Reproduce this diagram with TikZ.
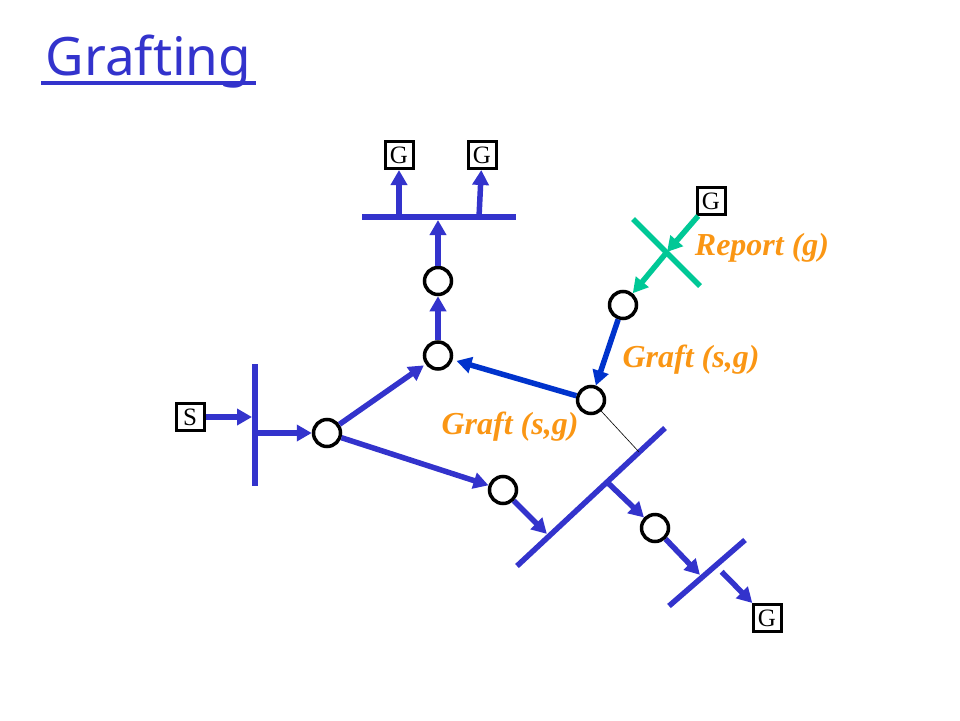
\documentclass[tikz,border=0pt]{standalone}
\usepackage{fontspec}
\setmainfont{Liberation Serif}
\newfontfamily\titlefont{Noto Sans}
\usetikzlibrary{arrows.meta,positioning}
\definecolor{treeblue}{RGB}{51,51,204}
\definecolor{graftblue}{RGB}{0,51,204}
\definecolor{reportgreen}{RGB}{0,200,150}
\definecolor{msgorange}{RGB}{250,150,20}
\tikzset{
mcast/.style={>={Triangle[length=15pt,width=16pt]},line width=5.5pt,
x=1pt,y=-1pt},
router/.style={circle,draw,line width=3.5pt,minimum size=27pt,inner sep=0pt},
member/.style={rectangle,draw,line width=3pt,minimum width=28pt,
minimum height=27pt,inner sep=0pt,font=\fontsize{25}{25}\selectfont},
lan/.style={treeblue},
tree/.style={->,treeblue},
graft/.style={->,graftblue},
report/.style={->,reportgreen},
msg/.style={msgorange,font=\fontsize{32}{32}\selectfont\bfseries\itshape},
}

\begin{document}
\begin{tikzpicture}[mcast]
    \useasboundingbox (0,0) rectangle (960,720);
    \node[treeblue,inner sep=0pt,anchor=base west,
        font=\titlefont\fontsize{53}{53}\selectfont] (title) at (43,75) {Grafting};
    \draw[treeblue,line width=3.5pt] ([xshift=-2pt,yshift=-8pt]title.base west)
        -- ([xshift=2pt,yshift=-8pt]title.base east);

    \node[member] (s) at (190,417) {S};
    \node[member] (g1) at (399,155) {G};
    \node[member] (g2) [right=52pt of g1] {G};
    \node[member] (g3) at (711,201) {G};
    \node[member] (g4) at (767,618) {G};

    \node[router] (r1) at (438,281) {};
    \node[router] (r2) [below=44pt of r1] {};
    \node[router] (r3) at (327,433) {};
    \node[router] (r4) at (503,490) {};
    \node[router] (r5) at (591,400) {};
    \node[router] (r6) at (655,528) {};
    \node[router] (r7) at (623,305) {};

    % LANs
    \coordinate (lan1a) at (255,364); \coordinate (lan1b) at (255,486);
    \coordinate (lan1in) at (255,417); \coordinate (lan1out) at (255,433);
    \coordinate (lan2a) at (362,217); \coordinate (lan2b) at (516,217);
    \coordinate (lan2in) at (438,217);
    \coordinate (lan2g1) at (399,217); \coordinate (lan2g2) at (479,217);
    \coordinate (lan3a) at (517,566); \coordinate (lan3b) at (665,428);
    \coordinate (lan3in) at (549,536); \coordinate (lan3out) at (607,482);
    \coordinate (lan3tap) at (639,452);
    \coordinate (lan4a) at (669,606); \coordinate (lan4b) at (745,540);
    \coordinate (lan4in) at (702,577); \coordinate (lan4out) at (716,566);
    \coordinate (cut1) at (633,219); \coordinate (cut2) at (700,286);
    \coordinate (cutc) at (667,252);

    \draw[lan] (lan1a) -- (lan1b);
    \draw[lan] (lan2a) -- (lan2b);
    \draw[lan] (lan3a) -- (lan3b);
    \draw[lan] (lan4a) -- (lan4b);
    \draw[reportgreen] (cut1) -- (cut2);
    \draw[black,line width=0.6pt] (r5) -- (lan3tap);

    \path[tree,shorten >=3pt] (s) edge (lan1in);
    \path[tree] (lan1out) edge (r3);
    \path[tree,shorten >=2pt] (r3) edge (r2);
    \path[tree] (r3) edge (r4);
    \path[tree] (r2) edge (r1);
    \path[tree,shorten >=3pt] (r1) edge (lan2in);
    \path[tree] (lan2g1) edge (g1);
    \path[tree] (lan2g2) edge (g2);
    \path[tree,shorten >=3pt] (r4) edge (lan3in);
    \path[tree] (lan3out) edge (r6);
    \path[tree,shorten >=3pt] (r6) edge (lan4in);
    \path[tree,shorten <=8pt] (lan4out) edge (g4);

    \path[report] (g3) edge (cutc);
    \path[report] (cutc) edge (r7);
    \path[graft] (r7) edge (r5);
    \path[graft,shorten >=4pt] (r5) edge (r2);

    \node[msg] (report) at (762,248) {Report (g)};
    \node[msg] (graft1) at (691,360) {Graft (s,g)};
    \node[msg] (graft2) at (510,427) {Graft (s,g)};
\end{tikzpicture}
\end{document}
